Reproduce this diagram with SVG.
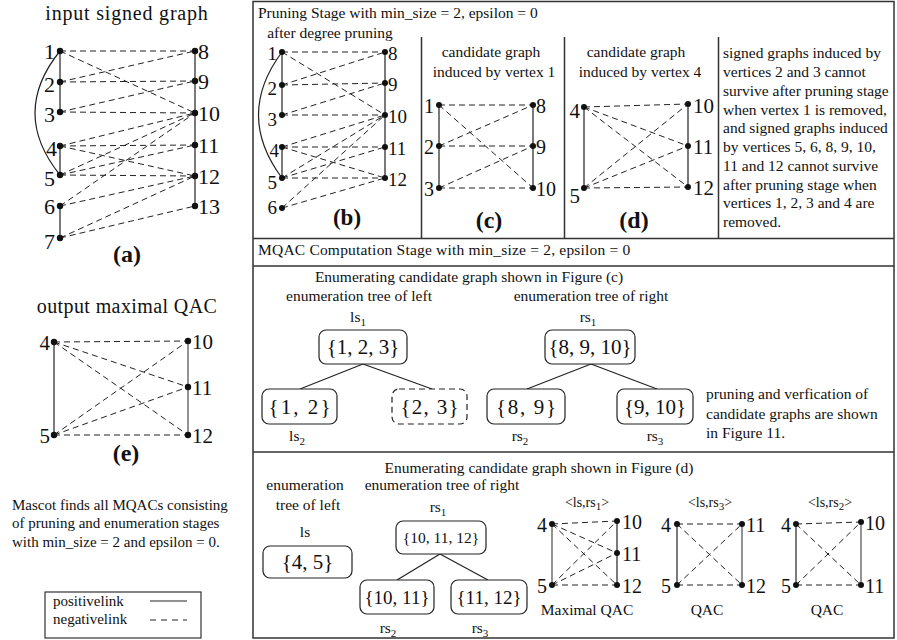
<svg xmlns="http://www.w3.org/2000/svg" width="897" height="640" viewBox="0 0 897 640">
<style>
.t{font-family:"Liberation Serif","Times New Roman",serif;fill:#111}
.f15{font-size:15.5px}
.f14{font-size:14px}
.f20{font-size:20px}
.lab22{font-size:22px}
.lab19{font-size:19px}
.lab20{font-size:20px}
.lab21{font-size:21px}
.b{font-weight:bold;font-size:24px}
.m{text-anchor:middle}
.e{text-anchor:end}
.s{stroke:#222;stroke-width:1.2;fill:none}
.g{stroke:#666;stroke-width:1.4;fill:none}
.d{stroke:#222;stroke-width:1;stroke-dasharray:6 4;fill:none}
.dot{fill:#111}
.box{fill:#fff;stroke:#222;stroke-width:1.2}
.dbox{fill:#fff;stroke:#222;stroke-width:1.2;stroke-dasharray:6 4}
.frame{fill:none;stroke:#333;stroke-width:1.5}
.sub{font-size:11px}
</style>

<!-- frames -->
<g id="frames">
<rect class="frame" x="253" y="1.5" width="641" height="636.5"/>
<path class="frame" d="M253,238.5H894M253,266H894M253,452H894M421.5,37V238.5M564.5,37V238.5M718.5,37V238.5"/>
<rect class="frame" x="45" y="592" width="156" height="46" style="stroke-width:1.2"/>
</g>

<!-- connectors -->
<g id="connectors">
 <g id="conn-a">
  <path class="s" d="M60,51V112M60,146V175M60,206V238M195,51V206M60,51Q10,113 60,175"/>
  <path class="d" d="M60,51L195,51M60,51L195,113M60,82L195,51M60,82L195,81M60,112L195,81M60,112L195,113M60,146L195,113M60,146L195,145M60,146L195,176M60,175L195,113M60,175L195,145M60,175L195,176M60,206L195,113M60,206L195,176M60,238L195,176M60,238L195,206"/>
 </g>
 <g id="conn-b">
  <path class="s" d="M282,52V115M282,147V178M385,52V178M282,52Q235,115 282,178"/>
  <path class="d" d="M282,52L385,52M282,52L385,115M282,85L385,52M282,85L385,83M282,115L385,83M282,115L385,115M282,147L385,115M282,147L385,147M282,147L385,178M282,178L385,115M282,178L385,147M282,178L385,178M282,208L385,115M282,208L385,178"/>
 </g>
 <g id="conn-c">
  <path class="s" d="M439,105V188M533,105V188"/>
  <path class="d" d="M439,105L533,105M439,105L533,188M439,146L533,105M439,146L533,146M439,188L533,146M439,188L533,188"/>
 </g>
 <g id="conn-d">
  <path class="s" d="M584,107V188M688,104V187"/>
  <path class="d" d="M584,107L688,104M584,107L688,146M584,107L688,187M584,188L688,104M584,188L688,146M584,188L688,187"/>
 </g>
 <g id="conn-e">
  <path class="s" d="M54,342V435"/>
  <path class="g" d="M188,341V435"/>
  <path class="d" d="M54,342L188,341M54,342L188,387M54,342L188,435M54,435L188,341M54,435L188,387M54,435L188,435"/>
 </g>
 <g id="conn-tree-top">
  <path class="s" d="M363,364L300,389M363,364L432,389M591,364L527,389M591,364L657,389"/>
 </g>
 <g id="conn-tree-bottom">
  <path class="s" d="M440,554L397,580M440,554L488,580"/>
 </g>
 <g id="conn-g1">
  <path class="g" d="M552,524V585"/>
  <path class="s" d="M617,521V585"/>
  <path class="d" d="M552,524L617,521M552,524L617,553M552,524L617,585M552,585L617,521M552,585L617,553M552,585L617,585"/>
 </g>
 <g id="conn-g2">
  <path class="s" d="M677,524V585"/>
  <path class="g" d="M742,524V585"/>
  <path class="d" d="M677,524L742,524M677,524L742,585M677,585L742,524M677,585L742,585"/>
 </g>
 <g id="conn-g3">
  <path class="s" d="M796,524V585"/>
  <path class="g" d="M861,522V585"/>
  <path class="d" d="M796,524L861,522M796,524L861,585M796,585L861,522M796,585L861,585"/>
 </g>
 <g id="legend-lines">
  <path class="s" d="M150,601H187"/>
  <path class="d" d="M150,620H187" style="stroke-dasharray:6 5"/>
 </g>
</g>

<!-- texts -->
<g id="titles" class="t">
 <text class="f20 m" x="127" y="20" style="letter-spacing:0.8px">input signed graph</text>
 <text class="b m" x="127" y="262">(a)</text>
 <text class="f20 m" x="127" y="313" style="letter-spacing:0.4px">output maximal QAC</text>
 <text class="b m" x="126" y="461">(e)</text>
 <text class="f15" x="12" y="510" style="font-size:15px">Mascot finds all MQACs consisting</text>
 <text class="f15" x="12" y="528" style="font-size:15px">of pruning and enumeration stages</text>
 <text class="f15" x="12" y="547" style="font-size:15px">with min_size = 2 and epsilon = 0.</text>
 <text class="f15" x="53" y="606" style="font-size:15px">positivelink</text>
 <text class="f15" x="53" y="624" style="font-size:15px">negativelink</text>

 <text class="f15" x="258" y="18">Pruning Stage with min_size = 2, epsilon = 0</text>
 <text class="f15 m" x="330" y="38">after degree pruning</text>
 <text class="b m" x="347" y="225" style="font-size:23px">(b)</text>
 <text class="f15 m" x="491" y="57">candidate graph</text>
 <text class="f15 m" x="494" y="77">induced by vertex 1</text>
 <text class="b m" x="489" y="228">(c)</text>
 <text class="f15 m" x="636" y="57">candidate graph</text>
 <text class="f15 m" x="640" y="77">induced by vertex 4</text>
 <text class="b m" x="634" y="228">(d)</text>
 <text class="f15" x="723" y="58.3">signed graphs induced by</text>
 <text class="f15" x="723" y="77">vertices 2 and 3 cannot</text>
 <text class="f15" x="723" y="95.8">survive after pruning stage</text>
 <text class="f15" x="723" y="114.5">when vertex 1 is removed,</text>
 <text class="f15" x="723" y="133.3">and signed graphs induced</text>
 <text class="f15" x="723" y="152">by vertices 5, 6, 8, 9, 10,</text>
 <text class="f15" x="723" y="170.8">11 and 12 cannot survive</text>
 <text class="f15" x="723" y="189.5">after pruning stage when</text>
 <text class="f15" x="723" y="208.3">vertices 1, 2, 3 and 4 are</text>
 <text class="f15" x="723" y="227">removed.</text>

 <text class="f15" x="258" y="255" style="letter-spacing:0.2px">MQAC Computation Stage with min_size = 2, epsilon = 0</text>
 <text class="f15 m" x="469" y="282">Enumerating candidate graph shown in Figure (c)</text>
 <text class="f15 m" x="359" y="301">enumeration tree of left</text>
 <text class="f15 m" x="591" y="301">enumeration tree of right</text>
 <text class="f15" x="706" y="399">pruning and verfication of</text>
 <text class="f15" x="706" y="418.5">candidate graphs are shown</text>
 <text class="f15" x="706" y="438">in Figure 11.</text>

 <text class="f15 m" x="539" y="473">Enumerating candidate graph shown in Figure (d)</text>
 <text class="f15 m" x="305" y="490">enumeration</text>
 <text class="f15 m" x="308" y="510">tree of left</text>
 <text class="f15 m" x="442" y="490">enumeration tree of right</text>
 <text class="f15 m" x="587" y="615">Maximal QAC</text>
 <text class="f15 m" x="707" y="615">QAC</text>
 <text class="f15 m" x="827" y="615">QAC</text>
</g>

<!-- tree nodes -->
<g id="tn-ls1" class="t"><text class="f15 m" x="358" y="322">ls<tspan class="sub" dy="4">1</tspan></text>
 <rect class="box" x="319" y="330" width="88" height="34" rx="7"/><text class="lab21 m" x="363" y="354">{1, 2, 3}</text></g>
<g id="tn-rs1" class="t"><text class="f15 m" x="588" y="322">rs<tspan class="sub" dy="4">1</tspan></text>
 <rect class="box" x="545" y="330" width="90" height="34" rx="7"/><text class="lab21 m" x="590" y="354">{8, 9, 10}</text></g>
<g id="tn-ls2" class="t"><rect class="box" x="262" y="389" width="75" height="35" rx="7"/><text class="lab21 m" x="299.5" y="414" textLength="62">{1,  2}</text>
 <text class="f15 m" x="297" y="441">ls<tspan class="sub" dy="4">2</tspan></text></g>
<g id="tn-23" class="t"><rect class="dbox" x="392" y="389" width="75" height="35" rx="7"/><text class="lab21 m" x="429.5" y="414" textLength="58">{2, 3}</text></g>
<g id="tn-rs2" class="t"><rect class="box" x="487" y="389" width="78" height="35" rx="7"/><text class="lab21 m" x="526" y="414" textLength="60">{8, 9}</text>
 <text class="f15 m" x="520" y="441">rs<tspan class="sub" dy="4">2</tspan></text></g>
<g id="tn-rs3" class="t"><rect class="box" x="617" y="389" width="76" height="35" rx="7"/><text class="lab21 m" x="655" y="414">{9, 10}</text>
 <text class="f15 m" x="655" y="441">rs<tspan class="sub" dy="4">3</tspan></text></g>

<g id="tn-ls" class="t"><text class="f15 m" x="305" y="537">ls</text>
 <rect class="box" x="263" y="546" width="89" height="32" rx="7"/><text class="lab21 m" x="307.5" y="569">{4, 5}</text></g>
<g id="tn-brs1" class="t"><text class="f15 m" x="438" y="512">rs<tspan class="sub" dy="4">1</tspan></text>
 <rect class="box" x="396" y="521" width="90" height="33" rx="7"/><text class="m" x="441" y="543" style="font-size:15.5px">{10, 11, 12}</text></g>
<g id="tn-brs2" class="t"><rect class="box" x="360" y="580" width="74" height="34" rx="7"/><text class="lab19 m" x="397" y="603.5">{10, 11}</text>
 <text class="f15 m" x="388" y="633">rs<tspan class="sub" dy="4">2</tspan></text></g>
<g id="tn-brs3" class="t"><rect class="box" x="451" y="580" width="76" height="34" rx="7"/><text class="lab19 m" x="489" y="603.5">{11, 12}</text>
 <text class="f15 m" x="480" y="633">rs<tspan class="sub" dy="4">3</tspan></text></g>

<g class="t">
 <text class="f14 m" x="587" y="507">&lt;ls,rs<tspan class="sub" dy="3">1</tspan><tspan dy="-3">&gt;</tspan></text>
 <text class="f14 m" x="710" y="507">&lt;ls,rs<tspan class="sub" dy="3">3</tspan><tspan dy="-3">&gt;</tspan></text>
 <text class="f14 m" x="830" y="507">&lt;ls,rs<tspan class="sub" dy="3">2</tspan><tspan dy="-3">&gt;</tspan></text>
</g>

<!-- graph (a) nodes -->
<g class="t lab22">
<g id="a1"><circle class="dot" cx="60" cy="51" r="3.2"/><text class="e" x="55" y="59">1</text></g>
<g id="a2"><circle class="dot" cx="60" cy="82" r="3.2"/><text class="e" x="55" y="92">2</text></g>
<g id="a3"><circle class="dot" cx="60" cy="112" r="3.2"/><text class="e" x="55" y="122">3</text></g>
<g id="a4"><circle class="dot" cx="60" cy="146" r="3.2"/><text class="e" x="57" y="156">4</text></g>
<g id="a5"><circle class="dot" cx="60" cy="175" r="3.2"/><text class="e" x="55" y="186">5</text></g>
<g id="a6"><circle class="dot" cx="60" cy="206" r="3.2"/><text class="e" x="55" y="214">6</text></g>
<g id="a7"><circle class="dot" cx="60" cy="238" r="3.2"/><text class="e" x="55" y="249">7</text></g>
<g id="a8"><circle class="dot" cx="195" cy="51" r="3.2"/><text x="198" y="59">8</text></g>
<g id="a9"><circle class="dot" cx="195" cy="81" r="3.2"/><text x="198" y="89">9</text></g>
<g id="a10"><circle class="dot" cx="195" cy="113" r="3.2"/><text x="198" y="121">10</text></g>
<g id="a11"><circle class="dot" cx="195" cy="145" r="3.2"/><text x="198" y="153">11</text></g>
<g id="a12"><circle class="dot" cx="195" cy="176" r="3.2"/><text x="198" y="184">12</text></g>
<g id="a13"><circle class="dot" cx="195" cy="206" r="3.2"/><text x="198" y="214">13</text></g>
</g>

<!-- graph (b) nodes -->
<g class="t lab19">
<g id="b1"><circle class="dot" cx="282" cy="52" r="3"/><text class="e" x="277" y="60">1</text></g>
<g id="b2"><circle class="dot" cx="282" cy="85" r="3"/><text class="e" x="277" y="95">2</text></g>
<g id="b3"><circle class="dot" cx="282" cy="115" r="3"/><text class="e" x="277" y="126">3</text></g>
<g id="b4"><circle class="dot" cx="282" cy="147" r="3"/><text class="e" x="279" y="157">4</text></g>
<g id="b5"><circle class="dot" cx="282" cy="178" r="3"/><text class="e" x="277" y="189">5</text></g>
<g id="b6"><circle class="dot" cx="282" cy="208" r="3"/><text class="e" x="277" y="214">6</text></g>
<g id="b8"><circle class="dot" cx="385" cy="52" r="3"/><text x="388" y="60">8</text></g>
<g id="b9"><circle class="dot" cx="385" cy="83" r="3"/><text x="388" y="91">9</text></g>
<g id="b10"><circle class="dot" cx="385" cy="115" r="3"/><text x="388" y="123">10</text></g>
<g id="b11"><circle class="dot" cx="385" cy="147" r="3"/><text x="388" y="155">11</text></g>
<g id="b12"><circle class="dot" cx="385" cy="178" r="3"/><text x="388" y="186">12</text></g>
</g>

<!-- graph (c) nodes -->
<g class="t lab20">
<g id="c1"><circle class="dot" cx="439" cy="105" r="3"/><text class="e" x="434" y="113">1</text></g>
<g id="c2"><circle class="dot" cx="439" cy="146" r="3"/><text class="e" x="434" y="154">2</text></g>
<g id="c3"><circle class="dot" cx="439" cy="188" r="3"/><text class="e" x="434" y="196">3</text></g>
<g id="c8"><circle class="dot" cx="533" cy="105" r="3"/><text x="536" y="113">8</text></g>
<g id="c9"><circle class="dot" cx="533" cy="146" r="3"/><text x="536" y="154">9</text></g>
<g id="c10"><circle class="dot" cx="533" cy="188" r="3"/><text x="536" y="196">10</text></g>
</g>

<!-- graph (d) nodes -->
<g class="t lab21">
<g id="d4"><circle class="dot" cx="584" cy="107" r="3"/><text class="e" x="580" y="118">4</text></g>
<g id="d5"><circle class="dot" cx="584" cy="188" r="3"/><text class="e" x="580" y="203">5</text></g>
<g id="d10"><circle class="dot" cx="688" cy="104" r="3"/><text x="693" y="113">10</text></g>
<g id="d11"><circle class="dot" cx="688" cy="146" r="3"/><text x="693" y="154">11</text></g>
<g id="d12"><circle class="dot" cx="688" cy="187" r="3"/><text x="693" y="195">12</text></g>
</g>

<!-- graph (e) nodes -->
<g class="t lab21">
<g id="e4"><circle class="dot" cx="54" cy="342" r="3.2"/><text class="e" x="50" y="350">4</text></g>
<g id="e5"><circle class="dot" cx="54" cy="435" r="3.2"/><text class="e" x="50" y="443">5</text></g>
<g id="e10"><circle class="dot" cx="188" cy="341" r="3.2"/><text x="192" y="349">10</text></g>
<g id="e11"><circle class="dot" cx="188" cy="387" r="3.2"/><text x="192" y="395">11</text></g>
<g id="e12"><circle class="dot" cx="188" cy="435" r="3.2"/><text x="192" y="443">12</text></g>
</g>

<!-- small result graphs -->
<g class="t lab20">
<g id="g1-4"><circle class="dot" cx="552" cy="524" r="3"/><text class="e" x="547" y="532">4</text></g>
<g id="g1-5"><circle class="dot" cx="552" cy="585" r="3"/><text class="e" x="547" y="593">5</text></g>
<g id="g1-10"><circle class="dot" cx="617" cy="521" r="3"/><text x="622" y="529">10</text></g>
<g id="g1-11"><circle class="dot" cx="617" cy="553" r="3"/><text x="622" y="561">11</text></g>
<g id="g1-12"><circle class="dot" cx="617" cy="585" r="3"/><text x="622" y="593">12</text></g>
<g id="g2-4"><circle class="dot" cx="677" cy="524" r="3"/><text class="e" x="671" y="532">4</text></g>
<g id="g2-5"><circle class="dot" cx="677" cy="585" r="3"/><text class="e" x="671" y="593">5</text></g>
<g id="g2-11"><circle class="dot" cx="742" cy="524" r="3"/><text x="746" y="532">11</text></g>
<g id="g2-12"><circle class="dot" cx="742" cy="585" r="3"/><text x="746" y="593">12</text></g>
<g id="g3-4"><circle class="dot" cx="796" cy="524" r="3"/><text class="e" x="791" y="532">4</text></g>
<g id="g3-5"><circle class="dot" cx="796" cy="585" r="3"/><text class="e" x="791" y="593">5</text></g>
<g id="g3-10"><circle class="dot" cx="861" cy="522" r="3"/><text x="865" y="530">10</text></g>
<g id="g3-11"><circle class="dot" cx="861" cy="585" r="3"/><text x="865" y="593">11</text></g>
</g>
</svg>
